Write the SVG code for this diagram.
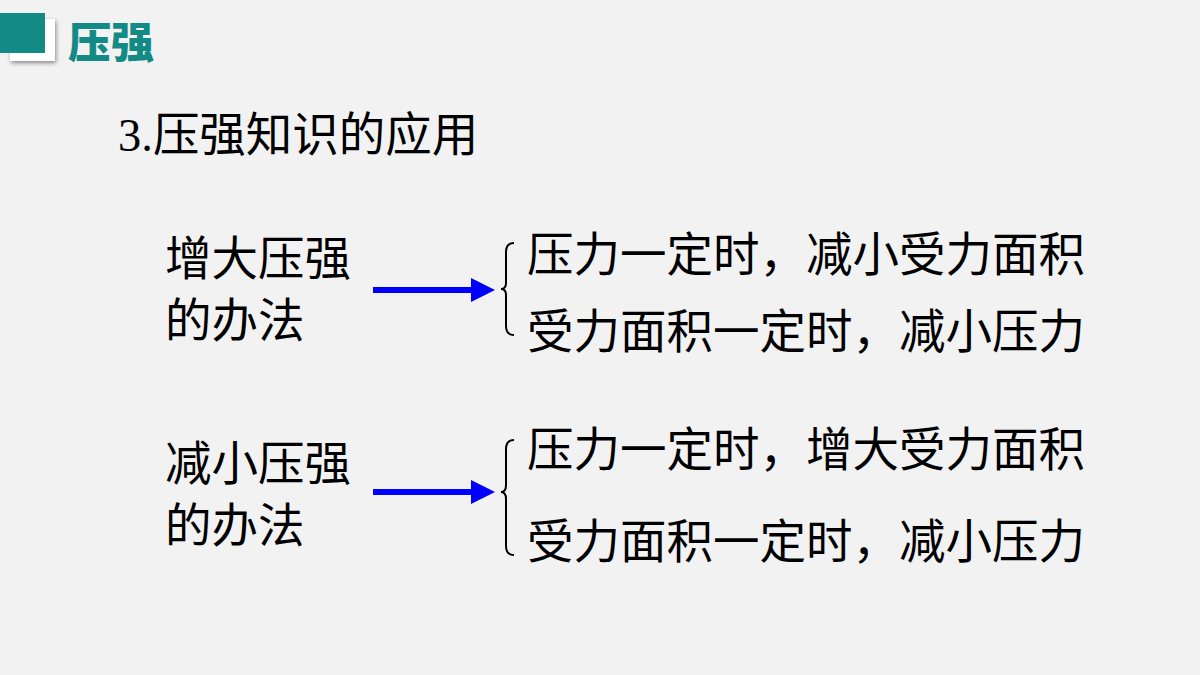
<svg xmlns="http://www.w3.org/2000/svg" width="1200" height="675" viewBox="0 0 1200 675">
<style>
.t{font-family:"Liberation Serif","Noto Sans CJK SC",serif;font-size:46.5px;fill:#000}
.c{font-family:"Noto Sans CJK SC",sans-serif;font-size:46.5px;fill:#000}
.br{fill:none;stroke:#000;stroke-width:2}
</style>
<defs><marker id="ah" markerWidth="4" markerHeight="4" refX="0.5" refY="2" orient="auto" markerUnits="strokeWidth"><path d="M0,0 L4,2 L0,4Z" fill="#0000ff"/></marker></defs>
<rect width="1200" height="675" fill="#f2f2f2"/>
<g id="header">
<rect x="10" y="19" width="45" height="42" fill="#fff" style="filter:drop-shadow(1px 2px 2px #888)"/>
<rect x="0" y="13" width="45" height="40" fill="#148a87"/>
<text x="68" y="58" font-family="Noto Sans CJK SC,sans-serif" font-weight="900" font-size="43" fill="#148a87">压强</text>
</g>
<g id="title"><text x="118" y="151" class="t">3.<tspan class="c">压强知识的应用</tspan></text></g>
<g id="n1"><text x="165" y="275" class="c">增大压强</text><text x="165" y="337" class="c">的办法</text></g>
<g id="n2"><text x="527" y="271" class="c">压力一定时，减小受力面积</text><text x="527" y="348" class="c">受力面积一定时，减小压力</text></g>
<g id="n3"><text x="165" y="480" class="c">减小压强</text><text x="165" y="542" class="c">的办法</text></g>
<g id="n4"><text x="527" y="466" class="c">压力一定时，增大受力面积</text><text x="527" y="558" class="c">受力面积一定时，减小压力</text></g>
<g id="connectors">
<line x1="373" y1="290" x2="474" y2="290" stroke="#0000ff" stroke-width="6" marker-end="url(#ah)"/>
<line x1="373" y1="492" x2="474" y2="492" stroke="#0000ff" stroke-width="6" marker-end="url(#ah)"/>
<path class="br" d="M514,243 Q506,243 506,252 L506,283 Q506,289 501,289 Q506,289 506,295 L506,326 Q506,335 514,335"/>
<path class="br" d="M514,440 Q506,440 506,449 L506,485 Q506,492 501,492 Q506,492 506,499 L506,546 Q506,555 514,555"/>
</g>
</svg>
